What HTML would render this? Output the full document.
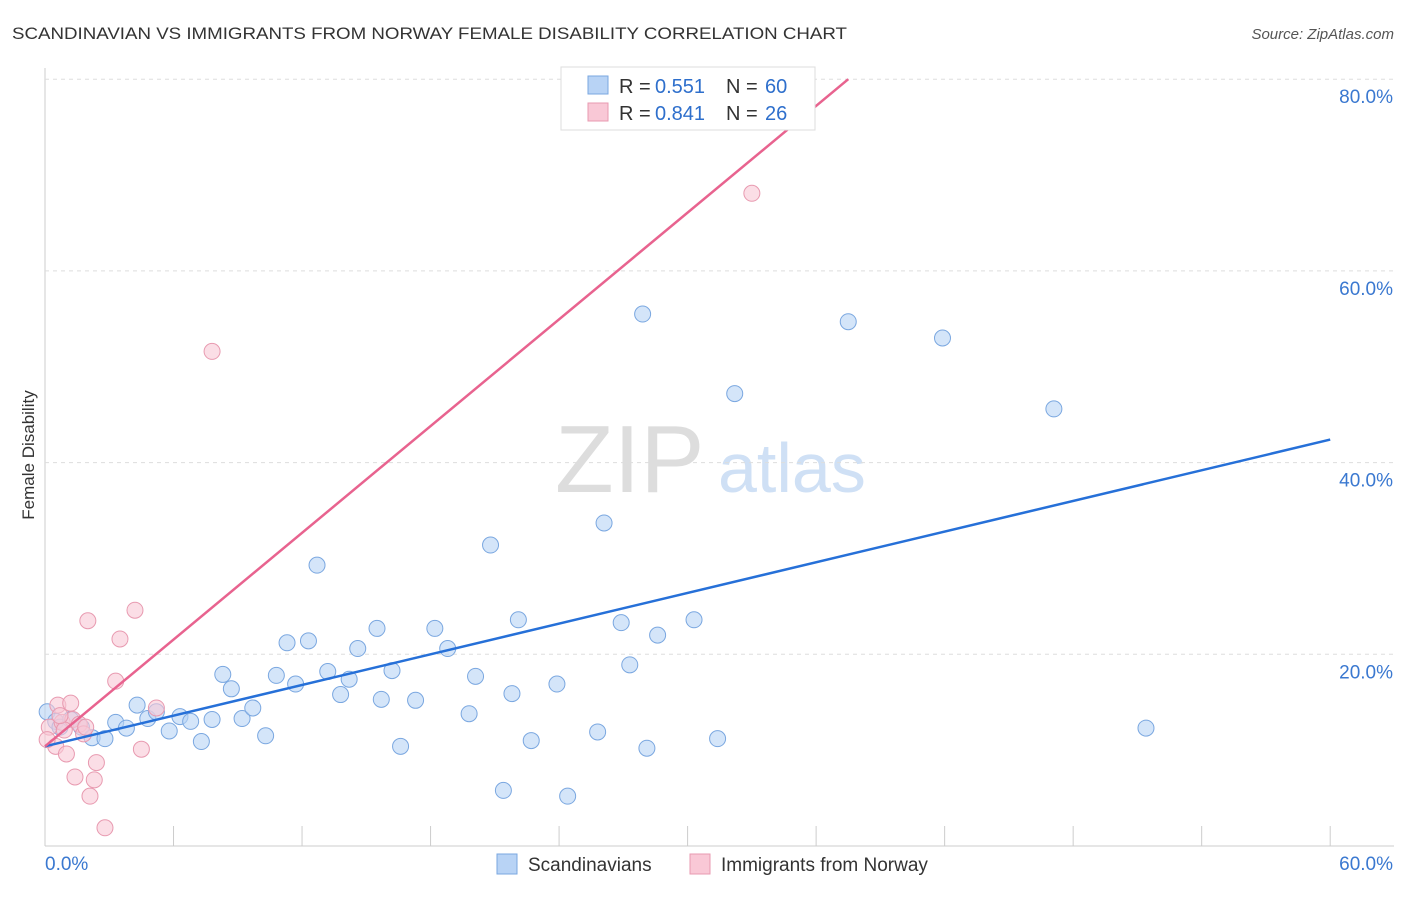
<!DOCTYPE html>
<html><head><meta charset="utf-8"><style>
body{margin:0;background:#fff;font-family:"Liberation Sans",sans-serif;}
svg text{font-family:"Liberation Sans",sans-serif;}
</style></head><body>
<svg id="c" width="1406" height="892">
<text x="12" y="39" font-size="17" fill="#333" textLength="835" lengthAdjust="spacingAndGlyphs">SCANDINAVIAN VS IMMIGRANTS FROM NORWAY FEMALE DISABILITY CORRELATION CHART</text>
<text x="1394" y="39" font-size="15" fill="#555" font-style="italic" text-anchor="end">Source: ZipAtlas.com</text>
<text x="34" y="455" font-size="17" fill="#333" transform="rotate(-90 34 455)" text-anchor="middle">Female Disability</text>
<text x="555" y="492" font-size="96" fill="#ddd" font-family="Liberation Serif">ZIP</text>
<text x="718" y="492" font-size="70" fill="#cfe0f5">atlas</text>
<g id="grid"></g><g id="pts"></g><g id="lines"></g>
<g>
<rect x="561" y="67" width="254" height="63" fill="#fff" stroke="#ddd"/>
<rect x="588" y="76" width="20" height="18" fill="#b8d3f5" stroke="#7aa7e0"/>
<text x="619" y="93" font-size="20" fill="#333">R =</text>
<text x="655" y="93" font-size="20" fill="#2e6fcc">0.551</text>
<text x="726" y="93" font-size="20" fill="#333">N =</text>
<text x="765" y="93" font-size="20" fill="#2e6fcc">60</text>
<rect x="588" y="103" width="20" height="18" fill="#f9c8d6" stroke="#e89ab0"/>
<text x="619" y="120" font-size="20" fill="#333">R =</text>
<text x="655" y="120" font-size="20" fill="#2e6fcc">0.841</text>
<text x="726" y="120" font-size="20" fill="#333">N =</text>
<text x="765" y="120" font-size="20" fill="#2e6fcc">26</text>
</g>
<g>
<rect x="497" y="854" width="20" height="20" fill="#b8d3f5" stroke="#7aa7e0"/>
<text x="528" y="871" font-size="19" fill="#333">Scandinavians</text>
<rect x="690" y="854" width="20" height="20" fill="#f9c8d6" stroke="#e89ab0"/>
<text x="721" y="871" font-size="19" fill="#333">Immigrants from Norway</text>
</g>
</svg>
<script>
const yTicks=[20,40,60,80];
const yTickLabels=["20.0%","40.0%","60.0%","80.0%"];
const xTickLabels=["0.0%","60.0%"];
const blueX=[0.1,0.5,0.7,1.2,1.7,2.2,2.8,3.3,3.8,4.3,4.8,5.2,5.8,6.3,6.8,7.3,7.8,8.3,8.7,9.2,9.7,10.3,10.8,11.3,11.7,12.3,12.7,13.2,13.8,14.2,14.6,15.5,15.7,16.2,16.6,17.3,18.2,18.8,19.8,20.1,20.8,21.4,21.8,22.1,22.7,23.9,24.4,25.8,26.1,26.9,27.3,27.9,28.1,28.6,30.3,31.4,32.2,37.5,41.9,47.1,51.4];
const blueY=[14.0,13.0,12.4,13.2,12.4,11.3,11.2,12.9,12.3,14.7,13.3,14.0,12.0,13.5,13.0,10.9,13.2,17.9,16.4,13.3,14.4,11.5,17.8,21.2,16.9,21.4,29.3,18.2,15.8,17.4,20.6,22.7,15.3,18.3,10.4,15.2,22.7,20.6,13.8,17.7,31.4,5.8,15.9,23.6,11.0,16.9,5.2,11.9,33.7,23.3,18.9,55.5,10.2,22.0,23.6,11.2,47.2,54.7,53.0,45.6,12.3];
const pinkX=[0.2,0.5,0.6,0.8,1.0,1.2,1.3,1.4,1.6,1.8,2.0,2.1,2.3,2.4,2.8,3.3,3.5,4.2,4.5,5.2,7.8,33.0,0.1,0.9,1.9,0.7];
const pinkY=[12.4,10.4,14.7,12.9,9.6,14.9,13.2,7.2,12.7,11.7,23.5,5.2,6.9,8.7,1.9,17.2,21.6,24.6,10.1,14.4,51.6,68.1,11.1,12.1,12.4,13.6];
const blueLine=[[0,10.4],[60,42.4]];
const pinkLine=[[0,10.4],[37.5,80.0]];
const X=v=>45+v*21.42, Y=v=>846-v*9.585;
const NS="http://www.w3.org/2000/svg";
function mk(t,a,p){const e=document.createElementNS(NS,t);for(const k in a)e.setAttribute(k,a[k]);document.getElementById(p).appendChild(e);return e;}
mk('line',{x1:45,y1:68,x2:45,y2:846,stroke:'#ccc'},'grid');
mk('line',{x1:45,y1:846,x2:1394,y2:846,stroke:'#ccc'},'grid');
yTicks.forEach((t,i)=>{
 const g=mk('line',{x1:45,y1:Y(t),x2:1394,y2:Y(t),stroke:'#ddd','stroke-dasharray':'4 4'},'grid');
 
 
 const l=mk('text',{x:1393,y:Y(t)+24,'font-size':19,fill:'#3a78d0','text-anchor':'end'},'grid');l.textContent=yTickLabels[i];
 
 
});
for(let i=0;i<=10;i++){const x=X(i*6);const t=mk('line',{x1:x,y1:826,x2:x,y2:846,stroke:'#ccc'},'grid');
 
 }
[[0,'start',45],[1,'end',1393]].forEach(([i,a,x])=>{const l=mk('text',{x:x,y:870,'font-size':19,fill:'#3a78d0','text-anchor':a},'grid');l.textContent=xTickLabels[i];
 
 });
blueX.forEach((v,i)=>{const c=mk('circle',{cx:X(v),cy:Y(blueY[i]),r:8,fill:'rgba(184,211,245,0.6)',stroke:'#7aa7e0'},'pts');
 
 });
pinkX.forEach((v,i)=>{const c=mk('circle',{cx:X(v),cy:Y(pinkY[i]),r:8,fill:'rgba(249,200,214,0.6)',stroke:'#e89ab0'},'pts');
 
 });
let b=mk('line',{x1:X(blueLine[0][0]),y1:Y(blueLine[0][1]),x2:X(blueLine[1][0]),y2:Y(blueLine[1][1]),stroke:'#2670d8','stroke-width':2.5},'lines');


let p=mk('line',{x1:X(pinkLine[0][0]),y1:Y(pinkLine[0][1]),x2:X(pinkLine[1][0]),y2:Y(pinkLine[1][1]),stroke:'#e8638f','stroke-width':2.5},'lines');


</script>
</body></html>
